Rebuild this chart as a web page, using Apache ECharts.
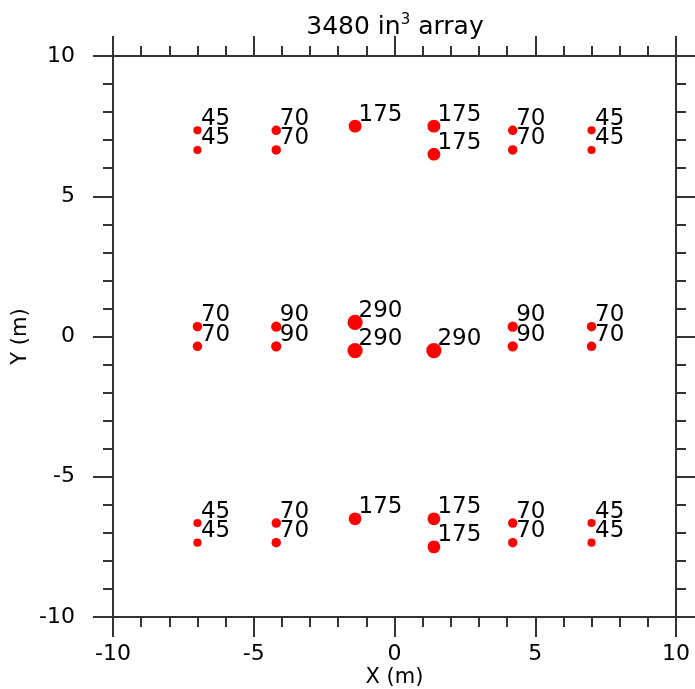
<!DOCTYPE html>
<html><head><meta charset="utf-8">
<script src="https://cdn.jsdelivr.net/npm/echarts@6/dist/echarts.min.js"></script>
<style>html,body{margin:0;padding:0;background:#fff}#c{width:695px;height:689px}</style>
</head><body><div id="c"></div>
<script>
const xTop = [-7,-7,-4.2,-4.2,-1.4,1.4,1.4,4.2,4.2,7,7];
const yTop = [7.35,6.65,7.35,6.65,7.5,7.5,6.5,7.35,6.65,7.35,6.65];
const vTop = [45,45,70,70,175,175,175,70,70,45,45];
const xMid = [-7,-7,-4.2,-4.2,-1.4,-1.4,1.4,4.2,4.2,7,7];
const yMid = [0.35,-0.35,0.35,-0.35,0.5,-0.5,-0.5,0.35,-0.35,0.35,-0.35];
const vMid = [70,70,90,90,290,290,290,90,90,70,70];
const xBot = [-7,-7,-4.2,-4.2,-1.4,1.4,1.4,4.2,4.2,7,7];
const yBot = [-6.65,-7.35,-6.65,-7.35,-6.5,-6.5,-7.5,-6.65,-7.35,-6.65,-7.35];
const vBot = [45,45,70,70,175,175,175,70,70,45,45];
const xTicks = [-10,-5,0,5,10];
const yTicks = [-10,-5,0,5,10];

const sizeOf = (v)=>Math.cbrt(v)*2.3;
const pts = [];
[[xTop,yTop,vTop],[xMid,yMid,vMid],[xBot,yBot,vBot]].forEach(([xs,ys,vs])=>{
  xs.forEach((x,i)=>{
    const r = sizeOf(vs[i])/2;
    pts.push({value:[x,ys[i],vs[i]], label:{offset:[3.5-r,-11.5]}});
  });
});

const AX = '#333';
const FONT = 'DejaVu Sans';
const FS = 23;
function axis(pos, showLabel, isX){
  return {
    type:'value', position:pos, min:xTicks[0], max:xTicks[xTicks.length-1], interval:5,
    axisLine:{show:true,onZero:false,lineStyle:{color:AX,width:2}},
    axisTick:{show:true,inside:false,length:20,lineStyle:{color:AX,width:2}},
    minorTick:{show:true,splitNumber:5,length:10,lineStyle:{color:AX,width:2}},
    splitLine:{show:false},
    axisLabel:{show:showLabel,fontFamily:FONT,fontSize:22,color:'#000',margin:isX?26:38},
  };
}
const xa = axis('bottom',true,true);
xa.name='X (m)'; xa.nameLocation='middle'; xa.nameGap=50; xa.nameMoveOverlap=false;
xa.nameTextStyle={fontFamily:FONT,fontSize:21,color:'#000'};
const ya = axis('left',true,false);
ya.name='Y (m)'; ya.nameLocation='middle'; ya.nameGap=82; ya.nameRotate=90; ya.nameMoveOverlap=false;
ya.nameTextStyle={fontFamily:FONT,fontSize:21,color:'#000'};

const chart = echarts.init(document.getElementById('c'),null,{renderer:'canvas'});
chart.setOption({
  animation:false,
  backgroundColor:'#fff',
  title:{
    text:'3480 in{sup|3} array', left:390, top:8, textAlign:'center',
    textStyle:{fontFamily:FONT,fontSize:25,fontWeight:'normal',color:'#000',
      rich:{sup:{fontFamily:FONT,fontSize:15,color:'#000',verticalAlign:'top',padding:[0,0,14,0]}}}
  },
  grid:{left:113,right:19,top:56,bottom:72,containLabel:false,outerBoundsMode:'none'},
  xAxis:[xa, axis('top',false,true)],
  yAxis:[ya, axis('right',false,false)],
  series:[{
    type:'scatter',
    data:pts,
    symbol:'circle',
    symbolSize:(d)=>sizeOf(d[2]),
    itemStyle:{color:'#ff0000',opacity:1},
    label:{show:true,position:'right',distance:0,
      formatter:(p)=>String(p.value[2]),
      fontFamily:FONT,fontSize:FS,color:'#000'},
    emphasis:{disabled:true}
  }]
});
</script></body></html>
